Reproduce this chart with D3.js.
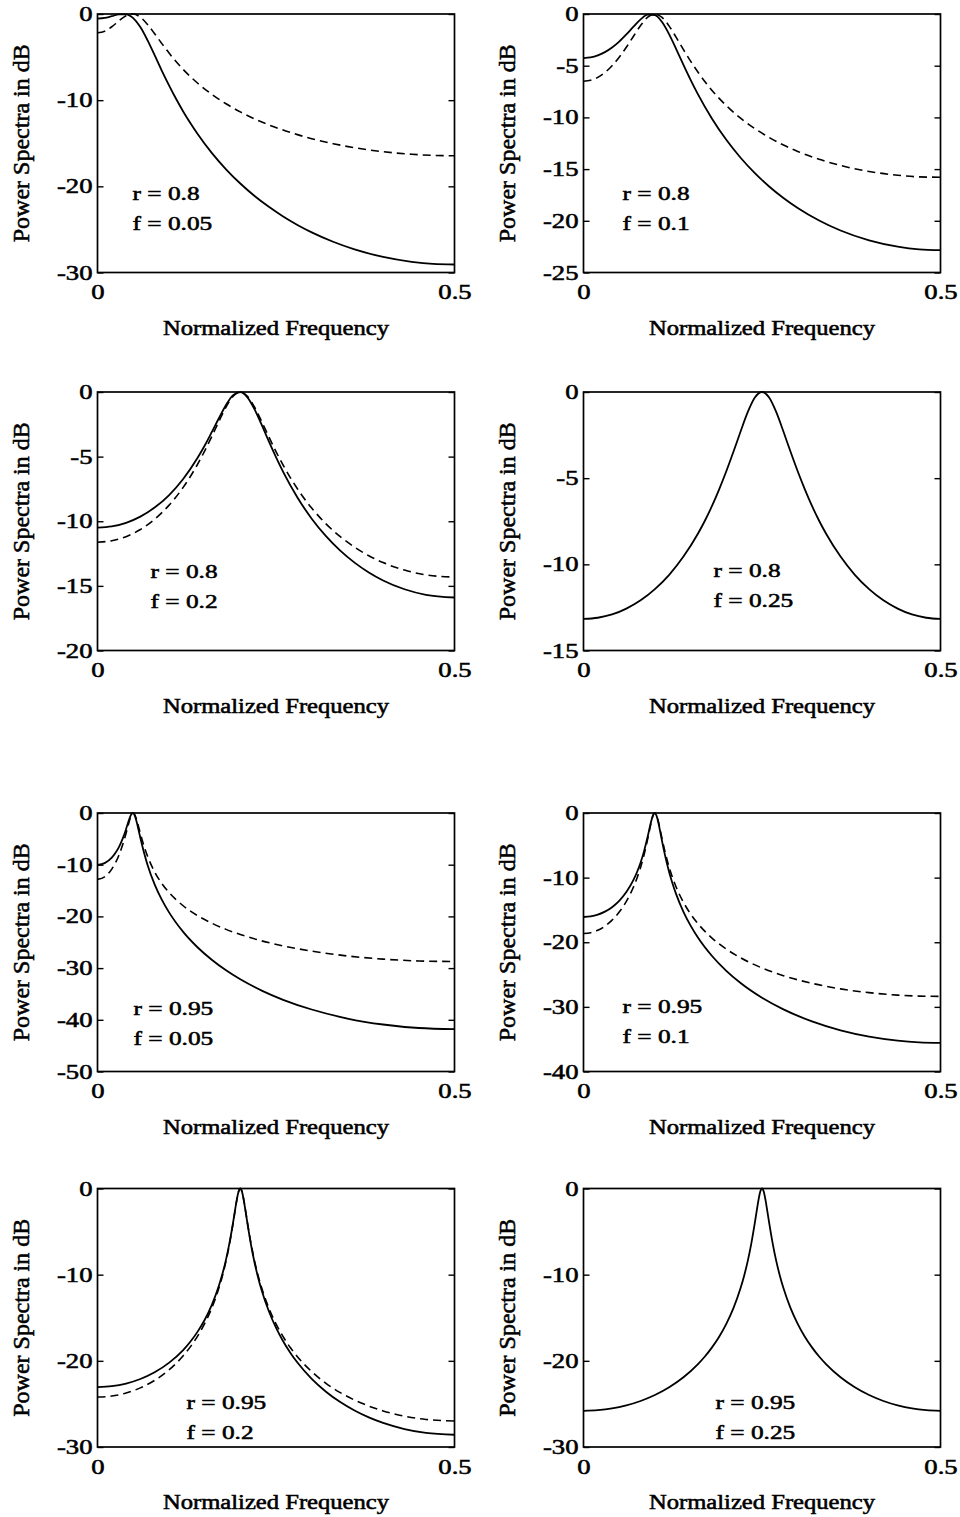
<!DOCTYPE html>
<html>
<head>
<meta charset="utf-8">
<script src="https://cdn.jsdelivr.net/npm/d3@7"></script>
<style>
  html, body { margin: 0; padding: 0; background: #fff; }
  svg { display: block; }
  text { font-family: "Liberation Serif", "Times New Roman", serif; fill: #000; stroke: #000; stroke-width: 0.55px; }
</style>
</head>
<body>
<svg id="chart" width="960" height="1517"></svg>
<script>
"use strict";

/* Power spectra (dB, normalised to the peak).
   Solid = full line, dashed = dashed line. x is normalized frequency. */

// r = 0.8, f = 0.05
var nu_p1 = [0, .01, .02, .03, .04, .05, .06, .07, .08, .09, .10, .11, .12, .13, .14, .16, .18, .20, .22, .24, .26, .28, .30, .33, .36, .40, .44, .47, .50];
var solid_p1 = [-0.54, -0.46, -0.26, -0.05, -0.04, -0.48, -1.52, -3.04, -4.78, -6.56, -8.25, -9.84, -11.31, -12.66, -13.90, -16.12, -18.02, -19.67, -21.12, -22.38, -23.50, -24.48, -25.34, -26.43, -27.31, -28.19, -28.76, -29.00, -29.07];
var dashed_p1 = [-2.18, -1.99, -1.48, -0.80, -0.20, 0.00, -0.37, -1.21, -2.29, -3.42, -4.51, -5.51, -6.43, -7.26, -8.01, -9.32, -10.42, -11.36, -12.17, -12.87, -13.47, -14.00, -14.47, -15.05, -15.52, -15.98, -16.28, -16.41, -16.45];

// r = 0.8, f = 0.1
var nu_p2 = [0, .01, .02, .03, .04, .05, .06, .07, .08, .09, .10, .11, .12, .13, .14, .15, .16, .18, .20, .22, .24, .26, .28, .30, .33, .36, .40, .44, .47, .50];
var solid_p2 = [-4.26, -4.20, -4.01, -3.69, -3.24, -2.67, -1.98, -1.23, -0.52, -0.06, -0.10, -0.78, -1.97, -3.42, -4.92, -6.37, -7.73, -10.13, -12.17, -13.90, -15.39, -16.68, -17.79, -18.76, -19.97, -20.94, -21.89, -22.50, -22.76, -22.84];
var dashed_p2 = [-6.50, -6.41, -6.13, -5.66, -5.00, -4.18, -3.21, -2.15, -1.11, -0.31, 0.00, -0.33, -1.17, -2.28, -3.44, -4.56, -5.59, -7.39, -8.86, -10.08, -11.09, -11.94, -12.67, -13.29, -14.05, -14.65, -15.23, -15.59, -15.75, -15.79];

// r = 0.8, f = 0.2
var nu_p3 = [0, .02, .04, .06, .08, .10, .12, .14, .15, .16, .17, .18, .19, .20, .21, .22, .23, .24, .25, .26, .28, .30, .32, .34, .36, .38, .40, .43, .46, .50];
var solid_p3 = [-10.49, -10.40, -10.12, -9.64, -8.94, -7.99, -6.73, -5.11, -4.16, -3.11, -2.03, -1.00, -0.24, -0.01, -0.42, -1.35, -2.55, -3.82, -5.04, -6.18, -8.16, -9.80, -11.15, -12.27, -13.20, -13.96, -14.58, -15.26, -15.69, -15.90];
var dashed_p3 = [-11.62, -11.51, -11.19, -10.64, -9.84, -8.77, -7.38, -5.61, -4.57, -3.45, -2.28, -1.17, -0.32, 0.00, -0.33, -1.18, -2.29, -3.47, -4.61, -5.66, -7.49, -8.98, -10.20, -11.19, -12.00, -12.67, -13.20, -13.78, -14.15, -14.32];

// r = 0.8, f = 0.25 (both curves coincide)
var nu_p4 = [0, .02, .04, .06, .08, .10, .12, .14, .16, .17, .18, .19, .20, .21, .22, .23, .24, .25, .26, .27, .28, .29, .30, .31, .32, .33, .34, .36, .38, .40, .42, .44, .46, .48, .50];
var solid_p4 = [-13.17, -13.10, -12.91, -12.57, -12.09, -11.44, -10.61, -9.55, -8.24, -7.47, -6.61, -5.65, -4.60, -3.47, -2.29, -1.17, -0.32, 0.00, -0.32, -1.17, -2.29, -3.47, -4.60, -5.65, -6.61, -7.47, -8.24, -9.55, -10.61, -11.44, -12.09, -12.57, -12.91, -13.10, -13.17];

// r = 0.95, f = 0.05
var nu_p5 = [0, .01, .02, .025, .03, .035, .04, .0425, .045, .0475, .05, .0525, .055, .0575, .06, .065, .07, .08, .09, .10, .12, .14, .16, .18, .20, .23, .26, .30, .35, .40, .45, .50];
var solid_p5 = [-10.02, -9.69, -8.64, -7.75, -6.60, -5.06, -3.13, -2.02, -0.97, -0.20, -0.03, -0.62, -1.81, -3.28, -4.80, -7.59, -9.99, -13.80, -16.76, -19.17, -23.00, -25.97, -28.39, -30.43, -32.17, -34.35, -36.13, -38.01, -39.75, -40.91, -41.59, -41.81];
var dashed_p5 = [-12.84, -12.35, -10.85, -9.68, -8.17, -6.26, -3.92, -2.62, -1.37, -0.39, 0.00, -0.39, -1.38, -2.64, -3.95, -6.34, -8.33, -11.38, -13.62, -15.35, -17.94, -19.84, -21.31, -22.51, -23.50, -24.73, -25.70, -26.72, -27.65, -28.26, -28.62, -28.73];

// r = 0.95, f = 0.1
var nu_p6 = [0, .01, .02, .03, .04, .05, .06, .07, .075, .08, .085, .09, .0925, .095, .0975, .10, .1025, .105, .1075, .11, .115, .12, .125, .13, .14, .15, .16, .18, .20, .22, .25, .28, .32, .36, .40, .44, .47, .50];
var solid_p6 = [-16.09, -16.00, -15.73, -15.26, -14.57, -13.59, -12.24, -10.36, -9.13, -7.65, -5.82, -3.60, -2.37, -1.20, -0.30, -0.01, -0.49, -1.57, -2.93, -4.35, -6.95, -9.16, -11.02, -12.63, -15.29, -17.43, -19.23, -22.13, -24.42, -26.31, -28.59, -30.39, -32.25, -33.63, -34.60, -35.22, -35.48, -35.57];
var dashed_p6 = [-18.65, -18.52, -18.15, -17.51, -16.58, -15.33, -13.67, -11.45, -10.05, -8.39, -6.38, -3.97, -2.65, -1.38, -0.39, 0.00, -0.39, -1.38, -2.65, -3.97, -6.38, -8.41, -10.09, -11.52, -13.82, -15.62, -17.08, -19.35, -21.06, -22.41, -23.98, -25.17, -26.36, -27.21, -27.80, -28.18, -28.33, -28.38];

// r = 0.95, f = 0.2
var nu_p7 = [0, .02, .04, .06, .08, .10, .12, .13, .14, .15, .16, .17, .175, .18, .185, .19, .1925, .195, .1975, .20, .2025, .205, .2075, .21, .215, .22, .225, .23, .24, .25, .26, .27, .28, .30, .32, .34, .36, .38, .40, .43, .46, .50];
var solid_p7 = [-23.04, -22.94, -22.64, -22.11, -21.33, -20.24, -18.75, -17.79, -16.64, -15.26, -13.53, -11.29, -9.90, -8.25, -6.26, -3.89, -2.59, -1.34, -0.37, 0.00, -0.41, -1.43, -2.72, -4.06, -6.53, -8.61, -10.35, -11.83, -14.24, -16.15, -17.72, -19.05, -20.20, -22.09, -23.58, -24.79, -25.77, -26.57, -27.21, -27.92, -28.37, -28.58];
var dashed_p7 = [-24.20, -24.09, -23.74, -23.14, -22.27, -21.06, -19.42, -18.38, -17.16, -15.69, -13.88, -11.56, -10.12, -8.43, -6.40, -3.97, -2.65, -1.38, -0.39, 0.00, -0.39, -1.38, -2.65, -3.97, -6.40, -8.43, -10.13, -11.56, -13.89, -15.71, -17.20, -18.45, -19.52, -21.25, -22.61, -23.69, -24.55, -25.25, -25.81, -26.42, -26.80, -26.98];

// r = 0.95, f = 0.25 (both curves coincide)
var nu_p8 = [0, .02, .04, .06, .08, .10, .12, .14, .16, .17, .18, .19, .20, .21, .22, .225, .23, .235, .24, .2425, .245, .2475, .25, .2525, .255, .2575, .26, .265, .27, .275, .28, .29, .30, .31, .32, .33, .34, .36, .38, .40, .42, .44, .46, .48, .50];
var solid_p8 = [-25.80, -25.73, -25.53, -25.17, -24.66, -23.97, -23.07, -21.91, -20.41, -19.50, -18.44, -17.20, -15.71, -13.89, -11.56, -10.12, -8.43, -6.39, -3.97, -2.65, -1.38, -0.39, 0.00, -0.39, -1.38, -2.65, -3.97, -6.39, -8.43, -10.12, -11.56, -13.89, -15.71, -17.20, -18.44, -19.50, -20.41, -21.91, -23.07, -23.97, -24.66, -25.17, -25.53, -25.73, -25.80];

// y axis ranges and tick steps, per panel
var y_mins = [-30, -25, -20, -15, -50, -40, -30, -30];
var y_steps = [10, 5, 5, 5, 10, 10, 10, 10];
var r_labels = ["0.8", "0.8", "0.8", "0.8", "0.95", "0.95", "0.95", "0.95"];
var f_labels = ["0.05", "0.1", "0.2", "0.25", "0.05", "0.1", "0.2", "0.25"];
var x_tick_values = [0, 0.5];

var panels = [
    { nu: nu_p1, solid: solid_p1, dashed: dashed_p1 },
    { nu: nu_p2, solid: solid_p2, dashed: dashed_p2 },
    { nu: nu_p3, solid: solid_p3, dashed: dashed_p3 },
    { nu: nu_p4, solid: solid_p4, dashed: null },
    { nu: nu_p5, solid: solid_p5, dashed: dashed_p5 },
    { nu: nu_p6, solid: solid_p6, dashed: dashed_p6 },
    { nu: nu_p7, solid: solid_p7, dashed: dashed_p7 },
    { nu: nu_p8, solid: solid_p8, dashed: null }
];

// Layout (page pixels)
var col_left = [97.5, 583.5];
var row_top = [14, 392, 813, 1188.5];
var panel_w = 357;
var panel_h = 258.5;
// where the "r = .. / f = .." note sits, relative to the frame corner
var note_pos = [[35, 186], [39, 186], [53, 186], [130, 185], [36, 202], [39, 200], [89, 220], [132, 220]];

var svg = d3.select("#chart");

// The scanned figure has wide lettering, so widen the glyphs a bit.
function widen(selection, factor) {
    selection.each(function() {
        var w = this.getComputedTextLength();
        if (w > 0) {
            d3.select(this)
                .attr("textLength", w * factor)
                .attr("lengthAdjust", "spacingAndGlyphs");
        }
    });
}

function draw_panel(spec, i) {
    var left = col_left[i % 2];
    var top = row_top[Math.floor(i / 2)];
    var g = svg.append("g").attr("transform", "translate(" + left + "," + top + ")");

    var x = d3.scaleLinear().domain([0, 0.5]).range([0, panel_w]);
    var y = d3.scaleLinear().domain([y_mins[i], 0]).range([panel_h, 0]);
    var ticks = d3.range(0, y_mins[i] - y_steps[i] / 2, -y_steps[i]);

    var line = d3.line()
        .x(function(d) { return x(d[0]); })
        .y(function(d) { return y(d[1]); })
        .curve(d3.curveMonotoneX);

    if (spec.dashed) {
        g.append("path")
            .datum(d3.zip(spec.nu, spec.dashed))
            .attr("d", line)
            .attr("fill", "none")
            .attr("stroke", "#000")
            .attr("stroke-width", 1.6)
            .attr("stroke-dasharray", "8,5");
    }
    g.append("path")
        .datum(d3.zip(spec.nu, spec.solid))
        .attr("d", line)
        .attr("fill", "none")
        .attr("stroke", "#000")
        .attr("stroke-width", 1.8);

    // left axis: labels outside, ticks inside
    var ax_left = g.append("g")
        .call(d3.axisLeft(y)
            .tickValues(ticks)
            .tickSizeInner(-6)
            .tickSizeOuter(0)
            .tickPadding(5)
            .tickFormat(function(d) { return String(d); }));
    // right axis: ticks only
    var ax_right = g.append("g")
        .attr("transform", "translate(" + panel_w + ",0)")
        .call(d3.axisRight(y)
            .tickValues(ticks)
            .tickSizeInner(-6)
            .tickSizeOuter(0)
            .tickFormat(""));
    var ax_bottom = g.append("g")
        .attr("transform", "translate(0," + panel_h + ")")
        .call(d3.axisBottom(x)
            .tickValues(x_tick_values)
            .tickSize(0)
            .tickPadding(12)
            .tickFormat(function(d) { return String(d); }));

    [ax_left, ax_right, ax_bottom].forEach(function(ax) {
        ax.attr("font-family", null).attr("font-size", null);
        ax.select(".domain").remove();
        ax.selectAll("line").attr("stroke", "#000").attr("stroke-width", 1.4);
    });
    ax_left.selectAll("text").style("font-size", "20.5px").call(widen, 1.3);
    ax_bottom.selectAll("text").style("font-size", "20.5px").call(widen, 1.3);

    // frame
    g.append("rect")
        .attr("width", panel_w)
        .attr("height", panel_h)
        .attr("fill", "none")
        .attr("stroke", "#000")
        .attr("stroke-width", 1.7);

    // axis titles
    g.append("text")
        .attr("x", panel_w / 2)
        .attr("y", panel_h + 62)
        .attr("text-anchor", "middle")
        .style("font-size", "20.5px")
        .text("Normalized Frequency")
        .call(widen, 1.2);

    g.append("text")
        .attr("transform", "translate(-69," + (panel_h / 2) + ") rotate(-90)")
        .attr("text-anchor", "middle")
        .style("font-size", "23.5px")
        .attr("textLength", 198)
        .attr("lengthAdjust", "spacingAndGlyphs")
        .text("Power Spectra in dB");

    // parameter note
    var note = g.append("g");
    note.append("text")
        .attr("x", note_pos[i][0])
        .attr("y", note_pos[i][1])
        .style("font-size", "19.5px")
        .text("r = " + r_labels[i]);
    note.append("text")
        .attr("x", note_pos[i][0])
        .attr("y", note_pos[i][1] + 30)
        .style("font-size", "19.5px")
        .text("f = " + f_labels[i]);
    note.selectAll("text").call(widen, 1.3);
}

panels.forEach(draw_panel);
</script>
</body>
</html>
